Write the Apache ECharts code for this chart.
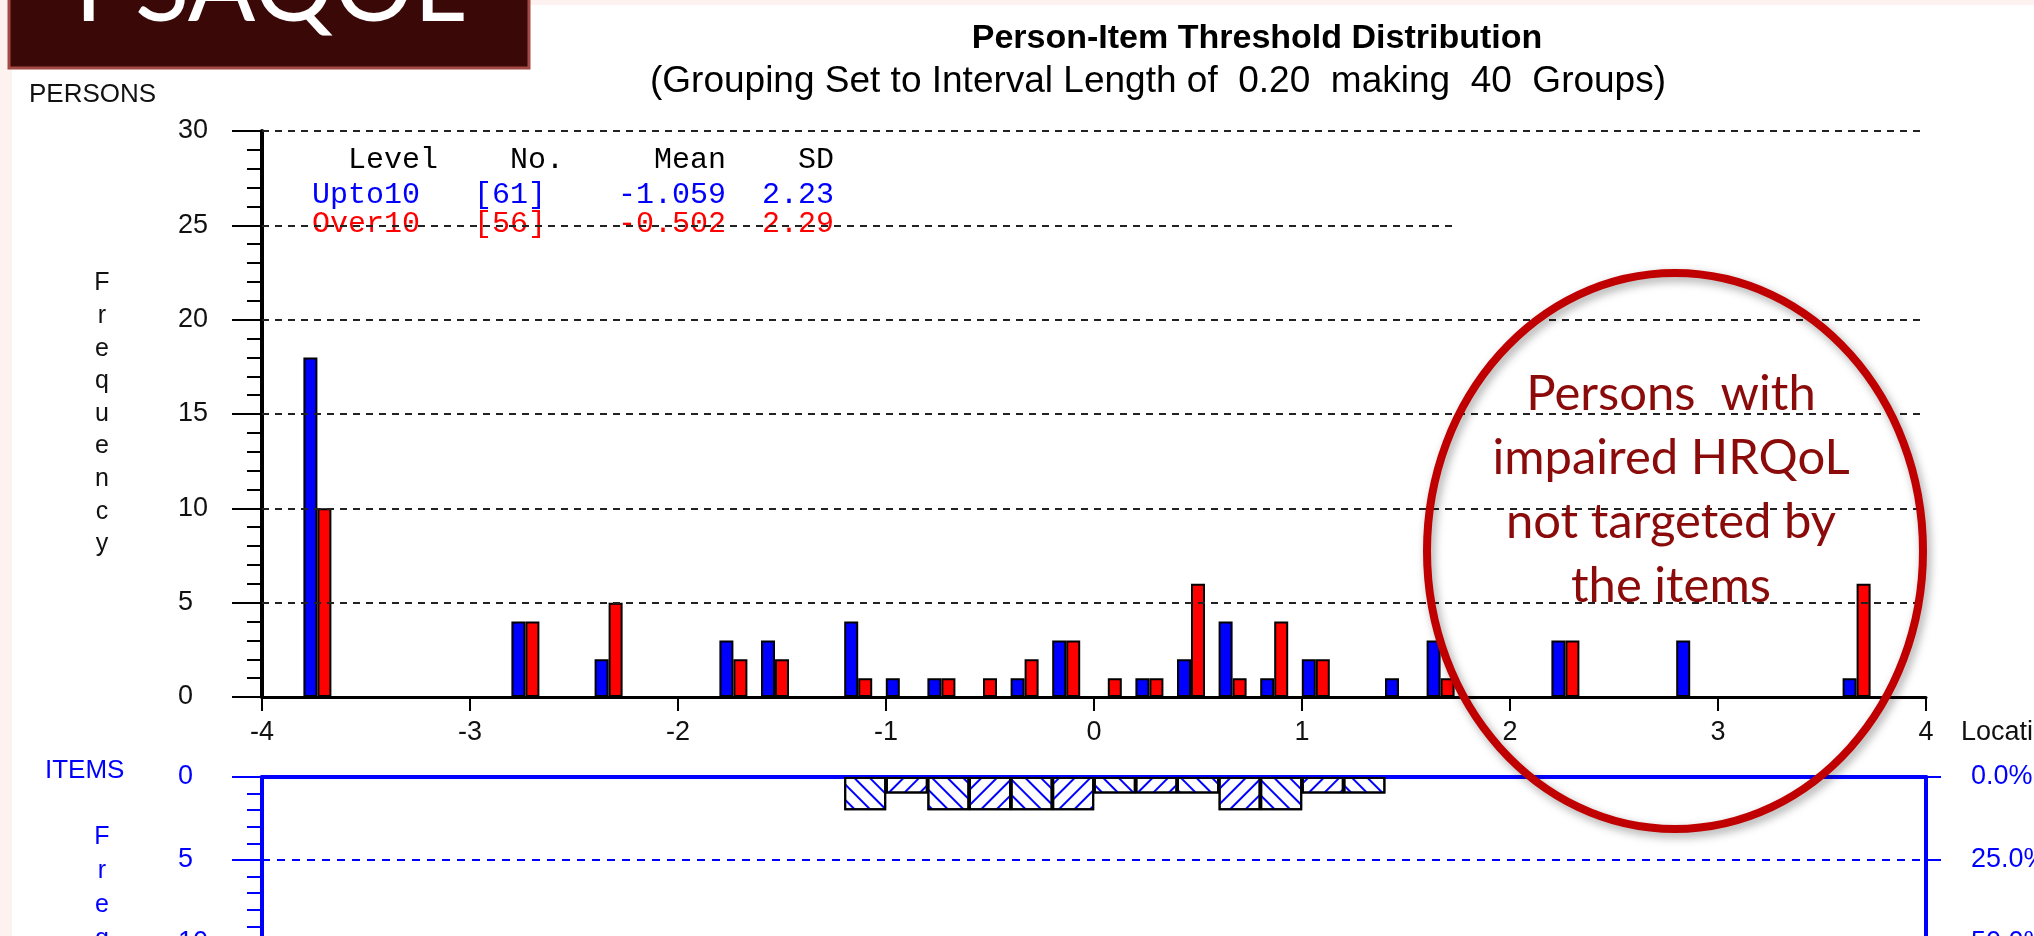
<!DOCTYPE html>
<html>
<head>
<meta charset="utf-8">
<script src="https://cdn.jsdelivr.net/npm/echarts@6/dist/echarts.min.js"></script>
<style>
  html, body { margin: 0; padding: 0; background: #fdf2ef; }
  #chart { width: 2034px; height: 936px; }
</style>
</head>
<body>
<div id="chart"></div>
<script>
// person locations (group centres, interval 0.2) and counts per class
const locations = [-3.7, -2.7, -2.3, -1.7, -1.5, -1.1, -0.9, -0.7, -0.5, -0.3, -0.1, 0.1, 0.3, 0.5, 0.7, 0.9, 1.1, 1.5, 1.7, 2.3, 2.9, 3.7]
const upto10 = [18, 4, 2, 3, 3, 4, 1, 1, 0, 1, 3, 0, 1, 2, 4, 1, 2, 1, 3, 3, 3, 1]
const over10 = [10, 4, 5, 2, 2, 1, 0, 1, 1, 2, 3, 1, 1, 6, 1, 4, 2, 0, 1, 3, 0, 6]

// item thresholds
const itemLocations = [-1.1, -0.9, -0.7, -0.5, -0.3, -0.1, 0.1, 0.3, 0.5, 0.7, 0.9, 1.1, 1.3]
const itemCounts = [2, 1, 2, 2, 2, 2, 1, 1, 1, 2, 2, 1, 1]

// summary table
const tableHeader = '  Level    No.     Mean    SD'
const tableRows = [
  { text: 'Upto10   [61]    -1.059  2.23', color: '#0000ff' },
  { text: 'Over10   [56]    -0.502  2.29', color: '#ff0000' }
]

const personGridLines = [5, 10, 15, 20, 30]
const partialGridLine = { y: 25, xEnd: 1.75 }

const BLUE = '#0000ff'
const RED = '#ff0000'
const FONT = "'Liberation Sans', Arial, sans-serif"
const MONO = "30px 'Liberation Mono', 'DejaVu Sans Mono', monospace"

const chart = echarts.init(document.getElementById('chart'))

const hatch = function (i) {
  return {
    symbol: 'rect',
    symbolSize: 1,
    dashArrayX: [1, 0],
    dashArrayY: [2, 9],
    rotation: i % 2 === 0 ? Math.PI / 4 : -Math.PI / 4,
    color: BLUE
  }
}

const vertical = function (s) { return s.split('').join('\n') }

const option = {
  backgroundColor: '#fdf2ef',
  animation: false,
  textStyle: { fontFamily: FONT },
  grid: [
    { left: 262, right: 108, top: 131, bottom: 239, outerBoundsMode: 'none', containLabel: false },
    { left: 262, right: 108, top: 777, height: 332, outerBoundsMode: 'none', containLabel: false }
  ],
  xAxis: [
    {
      type: 'value', gridIndex: 0, min: -4, max: 4, interval: 1,
      axisLine: { onZero: false, lineStyle: { color: '#000', width: 3 } },
      axisTick: { length: 14, lineStyle: { color: '#000', width: 2 } },
      axisLabel: { color: '#111', fontSize: 27, margin: 22 },
      splitLine: { show: false },
      name: 'Location', nameLocation: 'end', nameGap: 35,
      nameTextStyle: { color: '#111', fontSize: 27, align: 'left', verticalAlign: 'top', padding: [22, 0, 0, 0] }
    },
    {
      type: 'value', gridIndex: 1, min: -4, max: 4, interval: 1, position: 'top',
      axisLine: { onZero: false, lineStyle: { color: BLUE, width: 4 } },
      axisTick: { show: false },
      axisLabel: { show: false },
      splitLine: { show: false }
    }
  ],
  yAxis: [
    {
      type: 'value', gridIndex: 0, min: 0, max: 30, interval: 5,
      axisLine: { show: true, onZero: false, lineStyle: { color: '#000', width: 4 } },
      axisTick: { show: true, length: 30, lineStyle: { color: '#000', width: 2 } },
      minorTick: { show: true, splitNumber: 5, length: 15, lineStyle: { color: '#000', width: 2 } },
      axisLabel: { color: '#111', fontSize: 27, align: 'left', margin: 84 },
      splitLine: { show: false },
      name: vertical('Frequency'), nameLocation: 'middle', nameRotate: 0, nameGap: 160,
      nameTextStyle: { color: '#111', fontSize: 25, align: 'center', lineHeight: 32.6 }
    },
    {
      type: 'value', gridIndex: 1, min: 0, max: 20, interval: 5, inverse: true,
      axisLine: { show: true, onZero: false, lineStyle: { color: BLUE, width: 4 } },
      axisTick: { show: true, length: 30, lineStyle: { color: BLUE, width: 2 } },
      minorTick: { show: true, splitNumber: 5, length: 15, lineStyle: { color: BLUE, width: 2 } },
      axisLabel: { color: BLUE, fontSize: 27, align: 'left', margin: 84 },
      splitLine: { show: true, lineStyle: { color: BLUE, width: 2, type: [8, 7] } }
    },
    {
      type: 'value', gridIndex: 1, min: 0, max: 100, interval: 25, inverse: true, position: 'right',
      axisLine: { show: true, onZero: false, lineStyle: { color: BLUE, width: 4 } },
      axisTick: { show: true, length: 15, lineStyle: { color: BLUE, width: 2 } },
      axisLabel: { color: BLUE, fontSize: 27, align: 'left', margin: 45, formatter: function (v) { return v.toFixed(1) + '%' } },
      splitLine: { show: false }
    }
  ],
  series: [
    {
      // dashed reference lines of the person panel
      type: 'line', xAxisIndex: 0, yAxisIndex: 0, data: [], z: 1, silent: true,
      markLine: {
        silent: true, symbol: 'none', label: { show: false },
        lineStyle: { color: '#222', width: 2, type: [7, 6] },
        data: personGridLines.map(function (v) { return { yAxis: v } }).concat([
          [{ coord: [-4, partialGridLine.y] }, { coord: [partialGridLine.xEnd, partialGridLine.y] }]
        ])
      }
    },
    {
      name: 'Upto10', type: 'bar', xAxisIndex: 0, yAxisIndex: 0, z: 3,
      barWidth: 14, barGap: '0%',
      itemStyle: { color: BLUE, borderColor: '#000', borderWidth: 2 },
      data: locations.map(function (x, i) { return [x, upto10[i]] })
    },
    {
      name: 'Over10', type: 'bar', xAxisIndex: 0, yAxisIndex: 0, z: 3,
      barWidth: 14, barGap: '0%',
      itemStyle: { color: RED, borderColor: '#000', borderWidth: 2 },
      data: locations.map(function (x, i) { return [x, over10[i]] })
    },
    {
      // empty third slot of each class interval
      name: 'slot', type: 'bar', xAxisIndex: 0, yAxisIndex: 0, z: 3,
      barWidth: 14, barGap: '0%', silent: true,
      data: []
    },
    {
      name: 'Items', type: 'bar', xAxisIndex: 1, yAxisIndex: 1, z: 3,
      barWidth: 42,
      itemStyle: { color: '#fff', borderColor: '#000', borderWidth: 2 },
      data: itemLocations.map(function (x, i) {
        return { value: [x, itemCounts[i]], itemStyle: { decal: hatch(i) } }
      })
    }
  ],
  graphic: [
    { type: 'rect', z: -10, silent: true, shape: { x: 12, y: 5, width: 2040, height: 940 }, style: { fill: '#fff' } },
    { type: 'rect', z: 50, shape: { x: 9, y: -6, width: 520, height: 74 }, style: { fill: '#3b0808', stroke: '#a34a45', lineWidth: 3 } },
    { type: 'text', z: 51, x: 270, y: -11, style: { text: 'PSAQOL', fill: '#fff', font: "100px Lato, 'Open Sans', sans-serif", textAlign: 'center', textVerticalAlign: 'middle' } },
    { type: 'text', x: 1257, y: 39, style: { text: 'Person-Item Threshold Distribution', fill: '#000', font: "bold 34px " + FONT, textAlign: 'center', textVerticalAlign: 'middle' } },
    { type: 'text', x: 1158, y: 82, style: { text: '(Grouping Set to Interval Length of  0.20  making  40  Groups)', fill: '#000', font: "37px " + FONT, textAlign: 'center', textVerticalAlign: 'middle' } },
    { type: 'text', x: 29, y: 95, style: { text: 'PERSONS', fill: '#111', font: "26px " + FONT, textVerticalAlign: 'middle' } },
    { type: 'text', x: 45, y: 771, style: { text: 'ITEMS', fill: BLUE, font: "26px " + FONT, textVerticalAlign: 'middle' } },
    { type: 'text', x: 102, y: 820, style: { text: vertical('Frequency'), fill: BLUE, font: "25px " + FONT, textAlign: 'center', textVerticalAlign: 'top', lineHeight: 34 } },
    { type: 'text', z: 5, x: 312, y: 160, style: { text: tableHeader, fill: '#000', font: MONO, textVerticalAlign: 'middle' } },
    { type: 'text', z: 5, x: 312, y: 195, style: { text: tableRows[0].text, fill: tableRows[0].color, font: MONO, textVerticalAlign: 'middle' } },
    { type: 'text', z: 5, x: 312, y: 224, style: { text: tableRows[1].text, fill: tableRows[1].color, font: MONO, textVerticalAlign: 'middle' } },
    {
      type: 'ellipse', z: 100, silent: true,
      shape: { cx: 1675, cy: 551, rx: 248, ry: 278 },
      style: { fill: null, stroke: '#c00000', lineWidth: 8, shadowBlur: 10, shadowColor: 'rgba(0,0,0,0.35)', shadowOffsetX: 3, shadowOffsetY: 4 }
    },
    {
      type: 'text', z: 101, x: 1671, y: 362,
      style: { text: 'Persons  with\nimpaired HRQoL\nnot targeted by\nthe items', fill: '#8b0a0a', font: "49px Lato, 'Open Sans', sans-serif", textAlign: 'center', textVerticalAlign: 'top', lineHeight: 64 }
    }
  ]
}

chart.setOption(option)
</script>
</body>
</html>
